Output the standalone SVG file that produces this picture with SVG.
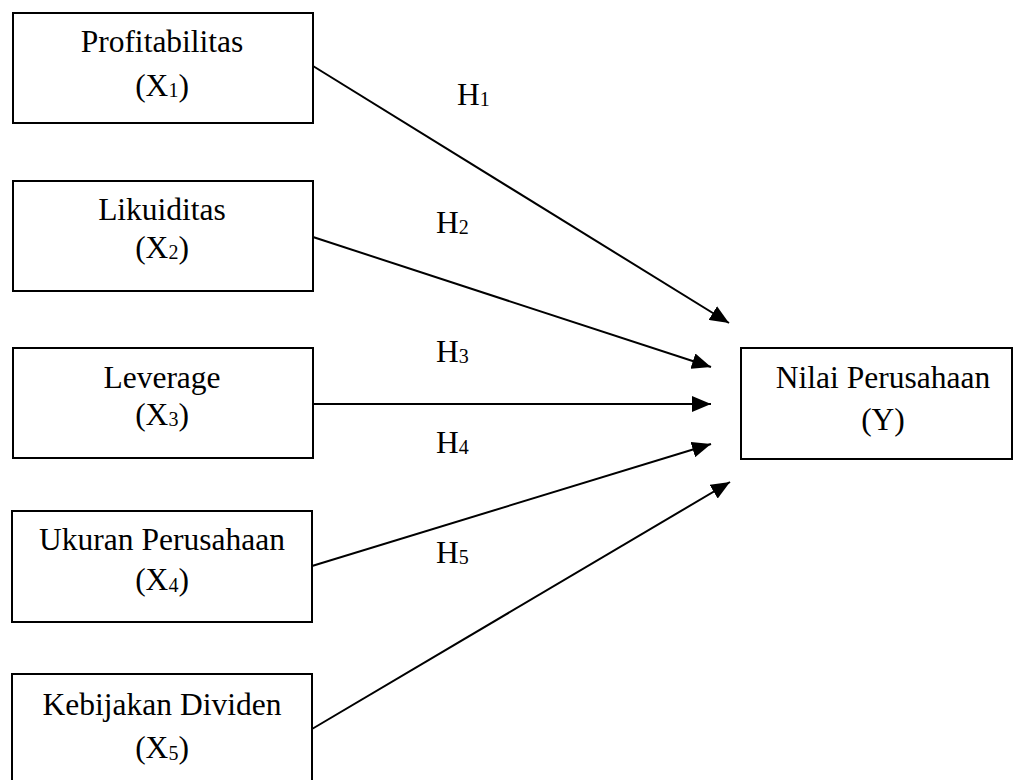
<svg xmlns="http://www.w3.org/2000/svg" width="1013" height="780" viewBox="0 0 1013 780">
<style>
.box{fill:#fff;stroke:#000;stroke-width:2}
text{font-family:"Liberation Serif","Times New Roman",serif;font-size:31.5px;fill:#000}
.c{text-anchor:middle}
.s{font-size:20px}
.conn line{stroke:#000;stroke-width:2;fill:none}
</style>
<defs>
<marker id="ah" markerUnits="userSpaceOnUse" markerWidth="20" markerHeight="16" refX="19" refY="8" orient="auto">
<path d="M0,0 L19,8 L0,16 Z" fill="#000"/>
</marker>
</defs>
<rect width="1013" height="780" fill="#fff"/>
<g id="x1">
<rect class="box" x="13" y="13" width="300" height="110"/>
<text class="c" x="162" y="52">Profitabilitas</text>
<text class="c" x="162" y="96">(X<tspan class="s" dy="1">1</tspan><tspan dy="-1">)</tspan></text>
</g>
<g id="x2">
<rect class="box" x="13" y="181" width="300" height="110"/>
<text class="c" x="162" y="220">Likuiditas</text>
<text class="c" x="162" y="258">(X<tspan class="s" dy="1">2</tspan><tspan dy="-1">)</tspan></text>
</g>
<g id="x3">
<rect class="box" x="13" y="348" width="300" height="110"/>
<text class="c" x="162" y="388">Leverage</text>
<text class="c" x="162" y="425">(X<tspan class="s" dy="1">3</tspan><tspan dy="-1">)</tspan></text>
</g>
<g id="x4">
<rect class="box" x="12" y="511" width="300" height="111"/>
<text class="c" x="162" y="550">Ukuran Perusahaan</text>
<text class="c" x="162" y="590">(X<tspan class="s" dy="2">4</tspan><tspan dy="-2">)</tspan></text>
</g>
<g id="x5">
<rect class="box" x="12" y="674" width="300" height="120"/>
<text class="c" x="162" y="715">Kebijakan Dividen</text>
<text class="c" x="162" y="758">(X<tspan class="s" dy="2">5</tspan><tspan dy="-2">)</tspan></text>
</g>
<g id="y">
<rect class="box" x="741" y="348" width="271" height="111"/>
<text class="c" x="883" y="388">Nilai Perusahaan</text>
<text class="c" x="883" y="430">(Y)</text>
</g>
<g class="conn" id="connectors">
<line x1="313" y1="66" x2="729" y2="323" marker-end="url(#ah)"/>
<line x1="313" y1="237" x2="711" y2="367" marker-end="url(#ah)"/>
<line x1="313" y1="404" x2="711" y2="404" marker-end="url(#ah)"/>
<line x1="312" y1="566" x2="711" y2="444" marker-end="url(#ah)"/>
<line x1="312" y1="729" x2="730" y2="482" marker-end="url(#ah)"/>
</g>
<g id="labels">
<text x="457" y="105">H<tspan class="s" dy="1">1</tspan></text>
<text x="436" y="233">H<tspan class="s" dy="1">2</tspan></text>
<text x="436" y="362">H<tspan class="s" dy="1">3</tspan></text>
<text x="436" y="453">H<tspan class="s" dy="1">4</tspan></text>
<text x="436" y="563">H<tspan class="s" dy="1">5</tspan></text>
</g>
</svg>
